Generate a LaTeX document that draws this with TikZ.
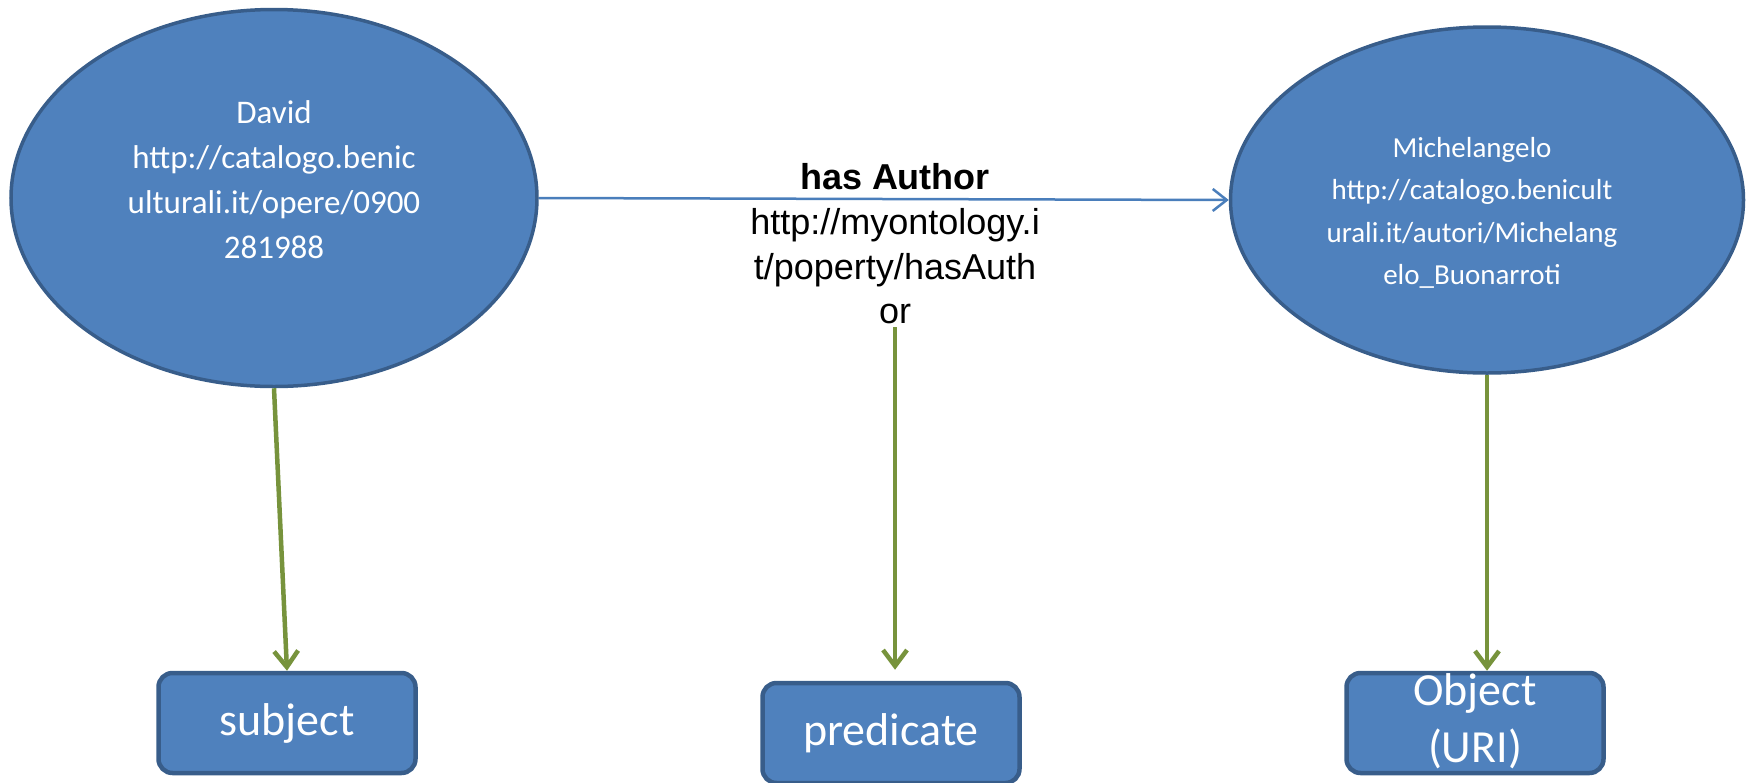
\documentclass[tikz,border=0pt]{standalone}
\usepackage{fontspec}
\setmainfont{Carlito}
\newfontfamily\arialfont{Liberation Sans}
\usetikzlibrary{shapes.geometric,arrows.meta}
\definecolor{nodeblue}{HTML}{4F81BD}
\definecolor{edgeblue}{HTML}{385D8A}
\definecolor{linkblue}{HTML}{4A7EBB}
\definecolor{rolegreen}{HTML}{77933C}

\begin{document}
\begin{tikzpicture}[x=1pt,y=-1pt,
	resource/.style={ellipse,draw=edgeblue,fill=nodeblue,line width=3.5pt,inner sep=0pt},
	uri/.style={text=white,align=center,inner sep=0pt},
	role/.style={draw=edgeblue,fill=nodeblue,line width=4.5pt,rounded corners=14pt,
		minimum width=257pt,minimum height=100pt,inner sep=0pt,text=white,
		font=\fontsize{46}{55}\selectfont,align=center},
	link/.style={draw=linkblue,line width=2.5pt,-{Straight Barb[length=14pt,width=22pt]}},
	roleof/.style={draw=rolegreen,line width=4.5pt,-{Straight Barb[length=16pt,width=24pt]}}]
	\useasboundingbox (0,0) rectangle (1754,782);
	\node[resource,minimum width=526pt,minimum height=377pt] (david) at (274,198) {};
	\node[uri,font=\fontsize{33}{45}\selectfont] (davidtxt) at (274,180)
		{David\\http://catalogo.benic\\ulturali.it/opere/0900\\281988};
	\node[resource,minimum width=513pt,minimum height=346pt] (michel) at (1487,200) {};
	\node[uri,font=\fontsize{29}{42.5}\selectfont] (micheltxt) at (1472,213)
		{Michelangelo\\http://catalogo.benicult\\urali.it/autori/Michelang\\elo\_Buonarroti};
	\node[align=center,inner sep=3pt,font=\arialfont\fontsize{36}{44.7}\selectfont] (prop) at (895,244)
		{\textbf{has Author}\\http://myontology.i\\t/poperty/hasAuth\\or};
	\node[role] (subj) at (287,723) {subject};
	\node[role] (pred) at (891,733) {predicate};
	\node[role,label={[uri,font=\fontsize{46}{57}\selectfont,yshift=2pt]center:Object\\(URI)}] (obj) at (1475,723) {};
	\draw[link] (david.east) -- (michel.west);
	\draw[roleof] (david.south) -- (subj.north);
	\draw[roleof,shorten >=11pt] (prop.south) -- (prop.south |- pred.north);
	\draw[roleof] (michel.south) -- (michel.south |- obj.north);
\end{tikzpicture}
\end{document}
